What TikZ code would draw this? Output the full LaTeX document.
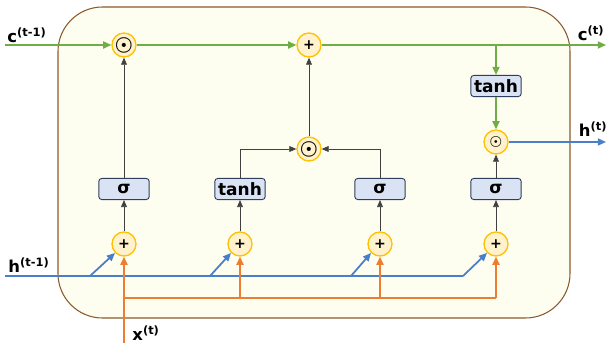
\documentclass[tikz,border=0pt]{standalone}
\usepackage{fontspec}
\setmainfont{DejaVu Sans}
\usetikzlibrary{arrows.meta}
\definecolor{cellg}{HTML}{70AD47}
\definecolor{hblue}{HTML}{4A7EC8}
\definecolor{xorange}{HTML}{ED7D31}
\definecolor{opfill}{HTML}{FFF2CC}
\definecolor{opline}{HTML}{FFC000}
\definecolor{gatefill}{HTML}{DAE3F3}
\definecolor{gateline}{HTML}{2F3E5C}
\definecolor{cellfill}{HTML}{FEFEF0}
\definecolor{cellline}{HTML}{8B5A2B}
\begin{document}
\begin{tikzpicture}[x=0.03cm,y=-0.03cm,
		op/.style={circle,draw=opline,fill=opfill,line width=1.1pt,inner sep=0pt,minimum size=20.5pt,font=\bfseries\boldmath\large},
		mul/.style={op,font=\boldmath\LARGE},
		gate/.style={rectangle,rounded corners=2.5pt,draw=gateline,fill=gatefill,line width=0.8pt,minimum width=43pt,minimum height=18pt,inner sep=0pt,font=\bfseries\fontsize{14.5}{16}\selectfont},
		lbl/.style={font=\bfseries\fontsize{14}{16}\selectfont,inner sep=0pt},
		wire/.style={line width=0.6pt,black!75,-{Triangle[length=6pt,width=5pt]}},
		flow/.style={line width=1.5pt,-{Triangle[length=7pt,width=6pt]}}]
		\useasboundingbox (0,0) rectangle (608,343);
		\draw[draw=cellline,fill=cellfill,line width=0.9pt,rounded corners=38pt] (58,7) rectangle (570,318);
		\node[mul] (m1) at (124,45) {$\odot$};
		\node[op] (a1) at (309,45) {+};
		\node[mul] (m2) at (309,149) {$\odot$};
		\node[mul,font=\boldmath\large] (m3) at (496,142) {$\odot$};
		\node[gate] (th) at (496,86) {tanh};
		\node[gate] (g1) at (124,189) {σ};
		\node[gate] (g2) at (240,189) {tanh};
		\node[gate] (g3) at (380,189) {σ};
		\node[gate] (g4) at (496,189) {σ};
		\node[op] (p1) at (124,244) {+};
		\node[op] (p2) at (240,244) {+};
		\node[op] (p3) at (380,244) {+};
		\node[op] (p4) at (496,244) {+};
		\node[lbl] (cl) at (27,35) {c\textsuperscript{(t-1)}};
		\node[lbl] (cr) at (591,33) {c\textsuperscript{(t)}};
		\node[lbl] (hr) at (593,129) {h\textsuperscript{(t)}};
		\node[lbl] (hl) at (29,265) {h\textsuperscript{(t-1)}};
		\node[lbl] (xl) at (146,333) {x\textsuperscript{(t)}};
		\coordinate (cin) at (5,45);
		\coordinate (cout) at (606,45);
		\coordinate (br) at (496,45);
		\coordinate (hout) at (606,142);
		\coordinate (hin) at (5,276);
		\coordinate (h1) at (90,276);
		\coordinate (h2) at (210,276);
		\coordinate (h3) at (351,276);
		\coordinate (h4) at (463,276);
		\coordinate (xin) at (124,343);
		\coordinate (xj) at (124,298);
		\coordinate (xe) at (496,298);
		\draw[flow,cellg] (cin) -- (m1);
		\draw[flow,cellg] (m1) -- (a1);
		\draw[flow,cellg] (a1) -- (cout);
		\draw[flow,cellg] (br) -- (th);
		\draw[flow,cellg] (th) -- (m3);
		\draw[flow,hblue] (m3) -- (hout);
		\draw[wire] (g1) -- (m1);
		\draw[wire] (g2) |- (m2);
		\draw[wire] (g3) |- (m2);
		\draw[wire] (m2) -- (a1);
		\draw[wire] (g4) -- (m3);
		\draw[wire] (p1) -- (g1);
		\draw[wire] (p2) -- (g2);
		\draw[wire] (p3) -- (g3);
		\draw[wire] (p4) -- (g4);
		\draw[line width=1.5pt,hblue] (hin) -- (h4);
		\draw[flow,hblue] (h1) -- (p1.south west);
		\draw[flow,hblue] (h2) -- (p2.south west);
		\draw[flow,hblue] (h3) -- (p3.south west);
		\draw[flow,hblue] (h4) -- (p4.south west);
		\draw[flow,xorange] (xin) -- (p1);
		\draw[line width=1.5pt,xorange] (xj) -- (xe);
		\draw[flow,xorange] (p2 |- xj) -- (p2);
		\draw[flow,xorange] (p3 |- xj) -- (p3);
		\draw[flow,xorange] (xe) -- (p4);
	\end{tikzpicture}
\end{document}
